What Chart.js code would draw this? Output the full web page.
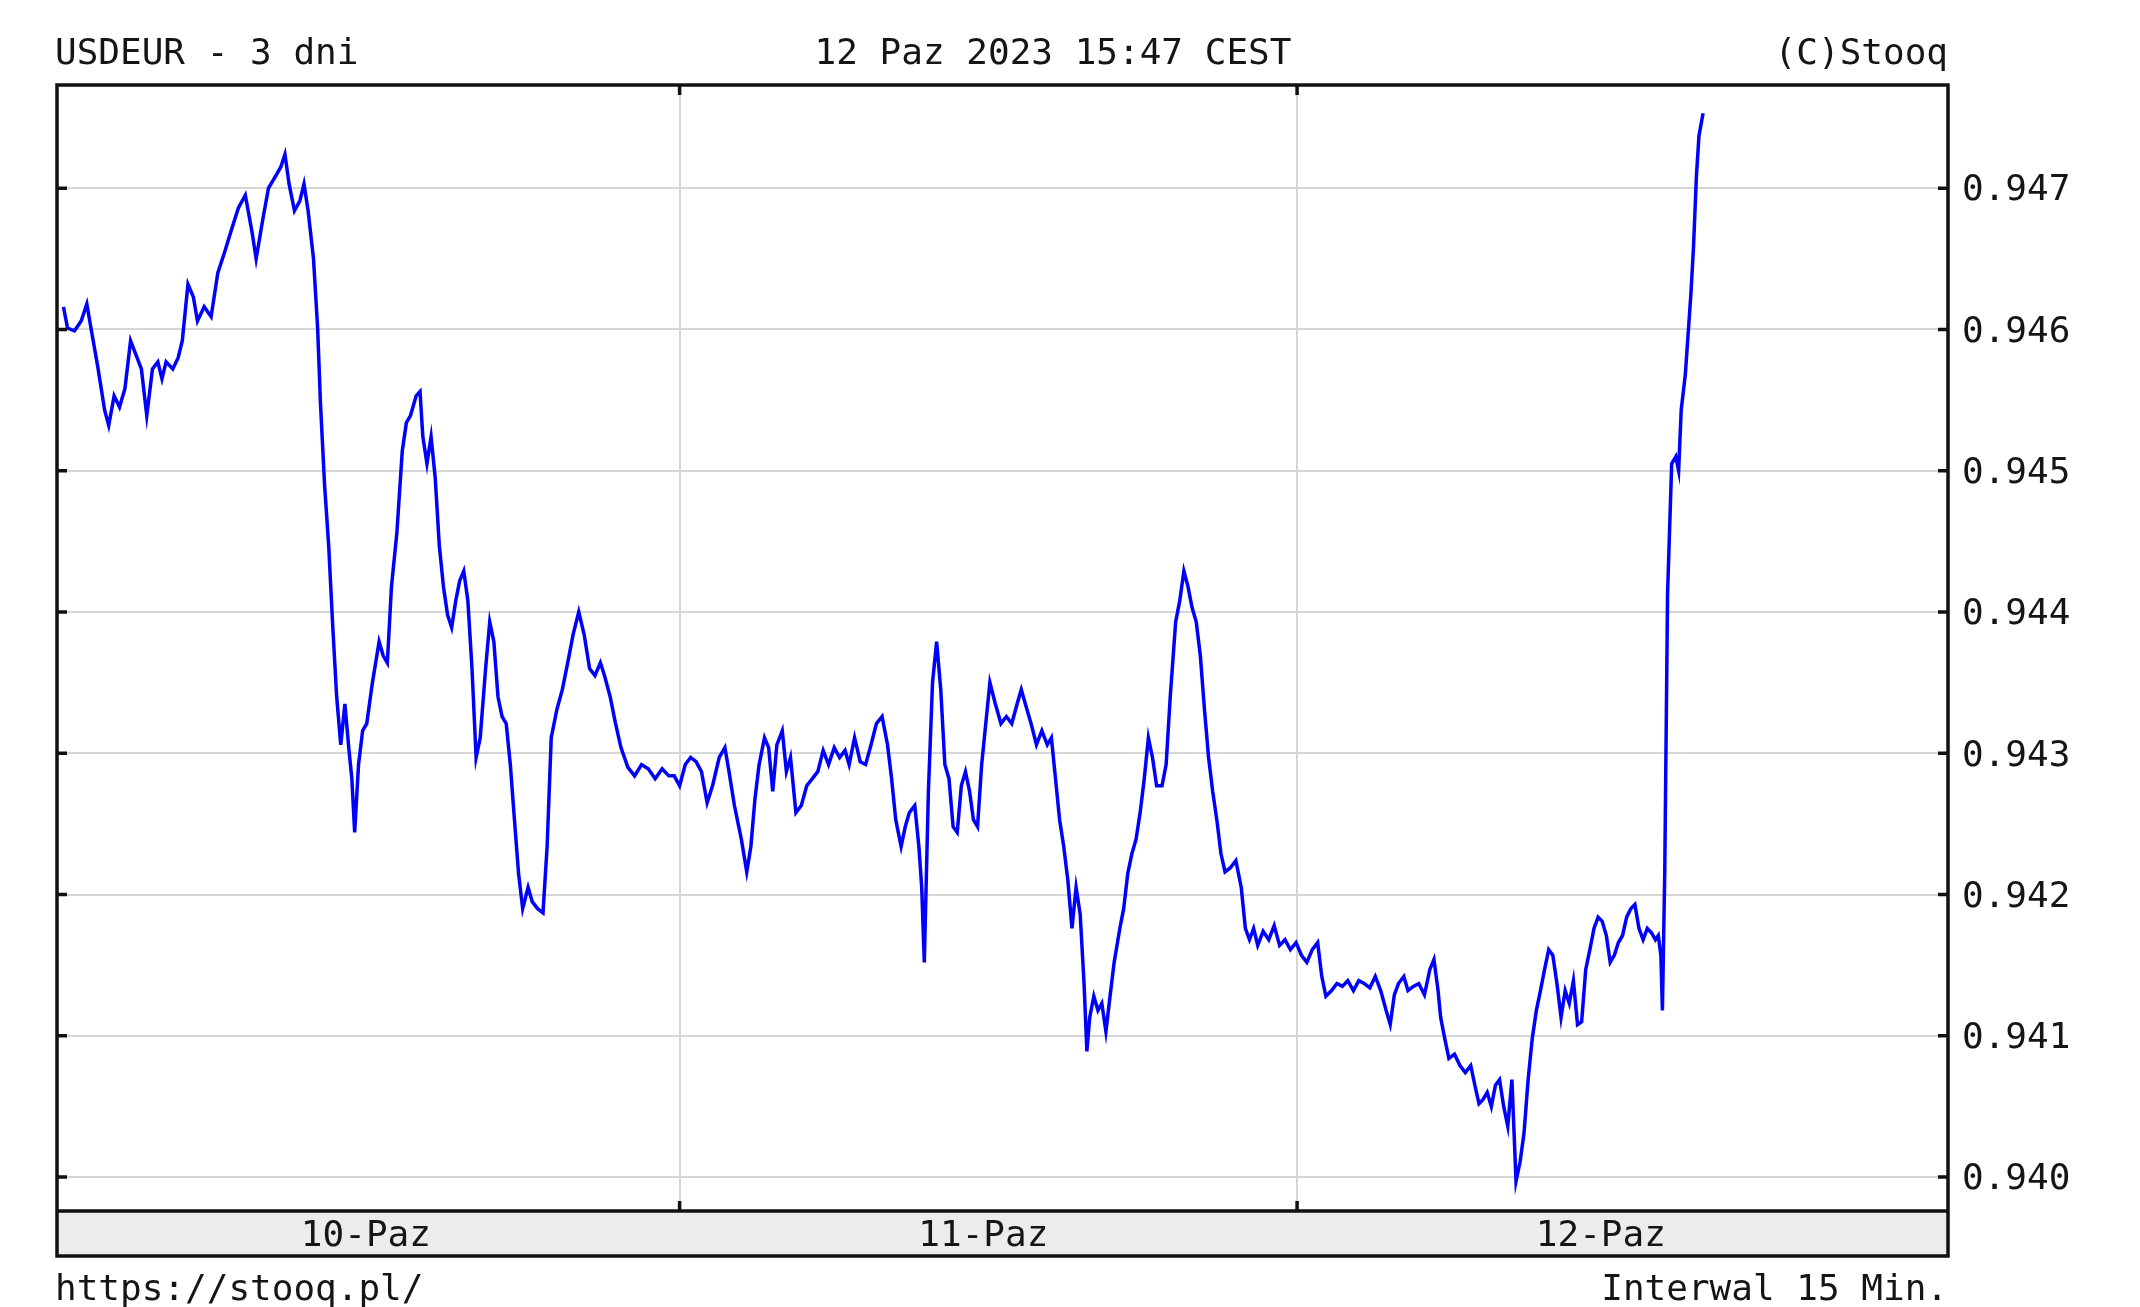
<!DOCTYPE html>
<html>
<head>
<meta charset="utf-8">
<script src="https://cdn.jsdelivr.net/npm/chart.js@4"></script>
<style>
  html, body { margin: 0; padding: 0; background: #fff; }
  #wrap { width: 2140px; height: 1307px; }
</style>
</head>
<body>
<div id="wrap"><canvas id="fx_chart" width="2140" height="1307"></canvas></div>
<script>
var titleLeft = "USDEUR - 3 dni";
var titleCenter = "12 Paz 2023 15:47 CEST";
var titleRight = "(C)Stooq";
var footLeft = "https://stooq.pl/";
var footRight = "Interwal 15 Min.";

// hours counted from 10-Paz 00:00
var dayCenters = [12, 36, 60];
var dayLabels = ["10-Paz", "11-Paz", "12-Paz"];
var dayBounds = [24, 48];
var yTicks = [0.940, 0.941, 0.942, 0.943, 0.944, 0.945, 0.946, 0.947];

var hours = [
  0.05,0.21,0.48,0.74,0.96,1.12,1.38,1.65,1.81,2.02,
  2.23,2.44,2.66,2.87,3.08,3.29,3.51,3.72,3.88,4.04,
  4.30,4.51,4.67,4.89,5.10,5.26,5.52,5.79,6.05,6.32,
  6.59,6.85,7.12,7.38,7.54,7.81,8.02,8.28,8.50,8.66,
  8.82,9.03,9.24,9.40,9.56,9.77,9.93,10.04,10.20,10.36,
  10.52,10.67,10.83,10.99,11.15,11.26,11.37,11.52,11.68,11.84,
  12.06,12.32,12.48,12.64,12.80,13.01,13.22,13.38,13.54,13.76,
  13.91,14.02,14.18,14.34,14.50,14.66,14.82,14.98,15.14,15.30,
  15.45,15.61,15.77,15.93,16.09,16.25,16.46,16.62,16.78,16.94,
  17.10,17.26,17.42,17.58,17.74,17.90,18.11,18.27,18.48,18.69,
  18.85,19.01,19.23,19.44,19.65,19.86,20.08,20.29,20.50,20.71,
  20.92,21.08,21.30,21.51,21.72,21.99,22.25,22.52,22.78,23.05,
  23.32,23.58,23.79,24.00,24.22,24.43,24.64,24.85,25.07,25.28,
  25.54,25.76,25.92,26.13,26.40,26.61,26.77,26.93,27.09,27.30,
  27.46,27.62,27.78,27.99,28.15,28.31,28.52,28.73,28.94,29.16,
  29.37,29.58,29.79,30.01,30.22,30.43,30.59,30.80,31.02,31.23,
  31.44,31.65,31.87,32.08,32.24,32.40,32.61,32.77,32.93,33.14,
  33.30,33.41,33.51,33.67,33.83,33.99,34.15,34.31,34.47,34.63,
  34.79,34.95,35.11,35.27,35.42,35.58,35.74,35.90,36.06,36.27,
  36.49,36.70,36.91,37.12,37.28,37.50,37.66,37.87,38.08,38.29,
  38.45,38.61,38.77,38.93,39.09,39.25,39.41,39.57,39.72,39.83,
  39.94,40.10,40.26,40.41,40.57,40.73,40.89,41.11,41.26,41.42,
  41.58,41.74,41.90,42.06,42.22,42.38,42.54,42.75,42.91,43.07,
  43.28,43.44,43.60,43.76,43.92,44.08,44.24,44.40,44.56,44.72,
  44.88,45.04,45.20,45.41,45.62,45.83,45.99,46.15,46.31,46.47,
  46.68,46.90,47.11,47.32,47.53,47.74,47.96,48.17,48.38,48.59,
  48.80,48.96,49.12,49.34,49.55,49.76,49.97,50.19,50.40,50.61,
  50.83,51.04,51.25,51.46,51.62,51.78,51.94,52.15,52.31,52.52,
  52.73,52.95,53.16,53.32,53.48,53.58,53.74,53.90,54.12,54.33,
  54.54,54.75,54.91,55.07,55.23,55.39,55.55,55.71,55.87,56.03,
  56.19,56.35,56.51,56.67,56.82,56.98,57.14,57.30,57.46,57.62,
  57.78,57.94,58.10,58.26,58.42,58.58,58.74,58.90,59.06,59.22,
  59.38,59.54,59.70,59.86,60.02,60.17,60.33,60.49,60.65,60.81,
  60.97,61.13,61.29,61.45,61.61,61.77,61.93,62.04,62.14,62.20,
  62.29,62.40,62.56,62.72,62.83,62.93,63.09,63.20,63.31,63.41,
  63.52,63.62,63.78
];

var rates = [
  0.94616,0.94601,0.94599,0.94606,0.94618,0.94601,0.94574,0.94543,0.94532,0.94553,
  0.94545,0.94558,0.94592,0.94582,0.94572,0.94539,0.94572,0.94577,0.94565,0.94577,
  0.94572,0.94580,0.94592,0.94632,0.94623,0.94606,0.94616,0.94609,0.94640,0.94655,
  0.94671,0.94686,0.94695,0.94669,0.94650,0.94679,0.94700,0.94708,0.94715,0.94724,
  0.94703,0.94684,0.94691,0.94703,0.94684,0.94650,0.94601,0.94548,0.94490,0.94447,
  0.94389,0.94340,0.94306,0.94335,0.94302,0.94282,0.94244,0.94292,0.94316,0.94321,
  0.94350,0.94379,0.94369,0.94364,0.94418,0.94456,0.94514,0.94534,0.94539,0.94553,
  0.94556,0.94524,0.94505,0.94524,0.94495,0.94447,0.94418,0.94398,0.94389,0.94408,
  0.94422,0.94429,0.94408,0.94360,0.94297,0.94311,0.94360,0.94393,0.94379,0.94340,
  0.94326,0.94321,0.94292,0.94253,0.94215,0.94190,0.94205,0.94195,0.94190,0.94187,
  0.94234,0.94311,0.94331,0.94345,0.94364,0.94384,0.94400,0.94384,0.94360,0.94355,
  0.94364,0.94355,0.94340,0.94321,0.94304,0.94290,0.94284,0.94292,0.94289,0.94282,
  0.94289,0.94284,0.94284,0.94277,0.94292,0.94297,0.94294,0.94287,0.94265,0.94277,
  0.94297,0.94304,0.94287,0.94263,0.94239,0.94216,0.94234,0.94268,0.94292,0.94311,
  0.94304,0.94273,0.94306,0.94316,0.94287,0.94297,0.94258,0.94263,0.94277,0.94282,
  0.94287,0.94302,0.94292,0.94304,0.94297,0.94302,0.94292,0.94311,0.94294,0.94292,
  0.94306,0.94321,0.94326,0.94306,0.94282,0.94253,0.94234,0.94248,0.94258,0.94263,
  0.94234,0.94205,0.94152,0.94273,0.94350,0.94379,0.94345,0.94292,0.94282,0.94248,
  0.94244,0.94277,0.94287,0.94273,0.94253,0.94248,0.94292,0.94321,0.94350,0.94335,
  0.94321,0.94326,0.94321,0.94335,0.94345,0.94331,0.94321,0.94306,0.94316,0.94306,
  0.94311,0.94282,0.94253,0.94234,0.94210,0.94176,0.94205,0.94186,0.94137,0.94089,
  0.94113,0.94128,0.94118,0.94123,0.94103,0.94128,0.94152,0.94176,0.94190,0.94215,
  0.94229,0.94239,0.94258,0.94282,0.94311,0.94297,0.94277,0.94277,0.94292,0.94340,
  0.94393,0.94408,0.94429,0.94418,0.94403,0.94393,0.94369,0.94331,0.94297,0.94273,
  0.94253,0.94229,0.94216,0.94219,0.94224,0.94205,0.94176,0.94168,0.94176,0.94164,
  0.94174,0.94168,0.94178,0.94164,0.94168,0.94161,0.94166,0.94157,0.94152,0.94161,
  0.94166,0.94142,0.94128,0.94132,0.94137,0.94135,0.94139,0.94132,0.94139,0.94137,
  0.94134,0.94142,0.94132,0.94118,0.94108,0.94129,0.94137,0.94142,0.94132,0.94135,
  0.94137,0.94129,0.94147,0.94154,0.94132,0.94113,0.94098,0.94084,0.94087,0.94079,
  0.94074,0.94079,0.94065,0.94052,0.94055,0.94060,0.94050,0.94065,0.94069,0.94050,
  0.94036,0.94069,0.93997,0.94011,0.94031,0.94069,0.94098,0.94118,0.94132,0.94147,
  0.94161,0.94157,0.94137,0.94113,0.94132,0.94123,0.94139,0.94108,0.94110,0.94147,
  0.94161,0.94176,0.94184,0.94181,0.94171,0.94152,0.94157,0.94166,0.94171,0.94184,
  0.94190,0.94193,0.94176,0.94168,0.94176,0.94173,0.94168,0.94171,0.94157,0.94118,
  0.94215,0.94413,0.94505,0.94510,0.94500,0.94543,0.94568,0.94597,0.94626,0.94659,
  0.94708,0.94737,0.94753
];

var points = [];
for (i = 0; i < hours.length; i++) { points.push({x: hours[i], y: rates[i]}); }

var monoFont = "'DejaVu Sans Mono', 'Liberation Mono', monospace";
var textColor = "#151515";
var bandHeight = 45;

// frame, date band, small inner ticks and the four corner texts
var stooqFrame = {
  id: "stooqFrame",
  beforeDraw: function(chart) {
    var c = chart.ctx, a = chart.chartArea;
    c.save();
    c.fillStyle = "#ffffff";
    c.fillRect(0, 0, chart.width, chart.height);
    c.fillStyle = "#ececec";
    c.fillRect(a.left, a.bottom, a.right - a.left, bandHeight);
    c.restore();
  },
  afterDraw: function(chart) {
    var c = chart.ctx, a = chart.chartArea;
    var xs = chart.scales.x, ys = chart.scales.y;
    c.save();
    c.strokeStyle = "#111";
    c.lineWidth = 3.5;
    c.strokeRect(a.left, a.top, a.right - a.left, a.bottom + bandHeight - a.top);
    c.beginPath();
    c.moveTo(a.left, a.bottom);
    c.lineTo(a.right, a.bottom);
    for (var k = 0; k < yTicks.length; k++) {
      var py = ys.getPixelForValue(yTicks[k]);
      c.moveTo(a.left, py); c.lineTo(a.left + 10, py);
      c.moveTo(a.right, py); c.lineTo(a.right - 10, py);
    }
    for (var d = 0; d < dayBounds.length; d++) {
      var px = xs.getPixelForValue(dayBounds[d]);
      c.moveTo(px, a.top); c.lineTo(px, a.top + 10);
      c.moveTo(px, a.bottom); c.lineTo(px, a.bottom - 10);
    }
    c.stroke();

    c.fillStyle = textColor;
    c.font = "36px " + monoFont;
    c.textBaseline = "alphabetic";
    c.textAlign = "left";
    c.fillText(titleLeft, 55, 64);
    c.fillText(footLeft, 55, 1300);
    c.textAlign = "center";
    c.fillText(titleCenter, 1053, 64);
    c.textAlign = "right";
    c.fillText(titleRight, a.right, 64);
    c.fillText(footRight, a.right, 1300);
    c.restore();
  }
};

new Chart("fx_chart", {
  type: "line",
  data: {
    datasets: [{
      data: points,
      borderColor: "#0000ff",
      borderWidth: 3.5,
      pointRadius: 0,
      tension: 0,
      fill: false
    }]
  },
  options: {
    responsive: false,
    animation: false,
    devicePixelRatio: 1,
    layout: { padding: { left: 57, top: 85, right: 0, bottom: 0 } },
    plugins: { legend: { display: false }, tooltip: { enabled: false } },
    scales: {
      x: {
        type: "linear",
        min: -0.2,
        max: 73.3,
        afterBuildTicks: function(s) {
          s.ticks = dayCenters.concat(dayBounds).sort(function(p, q) { return p - q; })
            .map(function(v) { return {value: v}; });
        },
        afterFit: function(s) { s.height = 96; },
        border: { display: false },
        grid: {
          drawTicks: false,
          lineWidth: 2,
          color: function(ctx) {
            return dayBounds.indexOf(ctx.tick.value) > -1 ? "#d6d6d6" : "rgba(0,0,0,0)";
          }
        },
        ticks: {
          autoSkip: false,
          maxRotation: 0,
          padding: 4,
          labelOffset: -5,
          color: textColor,
          font: { family: monoFont, size: 36 },
          callback: function(v) {
            var n = dayCenters.indexOf(v);
            return n > -1 ? dayLabels[n] : "";
          }
        }
      },
      y: {
        position: "right",
        min: 0.93976,
        max: 0.94773,
        afterBuildTicks: function(s) {
          s.ticks = yTicks.map(function(v) { return {value: v}; });
        },
        afterFit: function(s) { s.width = 192; },
        border: { display: false },
        grid: { drawTicks: false, lineWidth: 2, color: "#d6d6d6" },
        ticks: {
          padding: 14,
          labelOffset: 3,
          color: textColor,
          font: { family: monoFont, size: 36 },
          callback: function(v) { return Number(v).toFixed(3); }
        }
      }
    }
  },
  plugins: [stooqFrame]
});
</script>
</body>
</html>
